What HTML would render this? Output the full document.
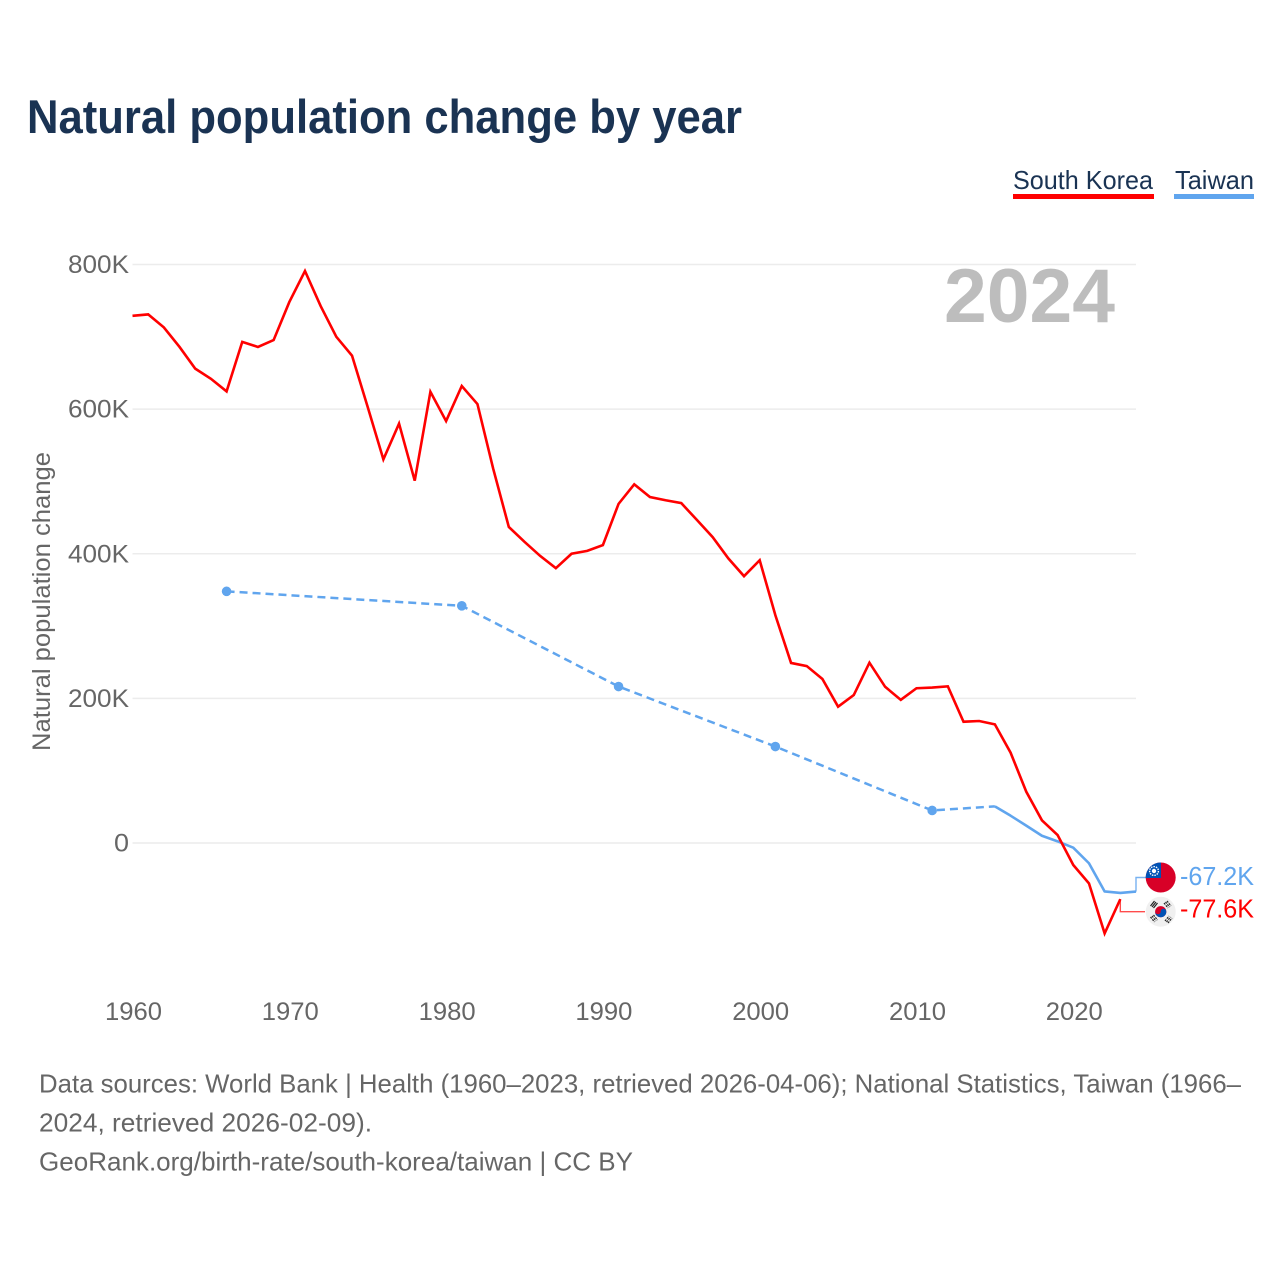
<!DOCTYPE html>
<html lang="en">
<head>
<meta charset="utf-8">
<title>Natural population change by year</title>
<style>
html,body{margin:0;padding:0;background:#fff;width:1280px;height:1280px;overflow:hidden}
svg{display:block}
text{font-family:"Liberation Sans",sans-serif}
</style>
</head>
<body>
<svg id="chart" xmlns="http://www.w3.org/2000/svg" width="1280" height="1280" viewBox="0 0 1280 1280">
  <defs>
    <clipPath id="flag-clip-tw"><circle cx="1160.7" cy="877.5" r="15"/></clipPath>
    <clipPath id="flag-clip-kr"><circle cx="1160.7" cy="911.7" r="15"/></clipPath>
  </defs>
  <rect x="0" y="0" width="1280" height="1280" fill="#fff"/>
  <text x="27" y="133" font-size="47" font-weight="700" fill="#1a3353" textLength="715" lengthAdjust="spacingAndGlyphs">Natural population change by year</text>

  <g>
    <text x="1013" y="189" font-size="26" fill="#1a3353" textLength="140" lengthAdjust="spacingAndGlyphs">South Korea</text>
    <rect x="1013" y="194" width="141" height="5" fill="#ff0000"/>
  </g>
  <g>
    <text x="1175" y="189" font-size="26" fill="#1a3353" textLength="79" lengthAdjust="spacingAndGlyphs">Taiwan</text>
    <rect x="1174" y="194" width="80" height="5" fill="#60a5ee"/>
  </g>

  <g id="grid"></g>
  <g id="yticks"></g>
  <g id="xticks"></g>

  <text x="1115" y="322" text-anchor="end" font-size="76" font-weight="700" fill="#bdbdbd" textLength="171" lengthAdjust="spacingAndGlyphs">2024</text>
  <text transform="translate(50,601.5) rotate(-90)" text-anchor="middle" font-size="25" fill="#666" textLength="299" lengthAdjust="spacingAndGlyphs">Natural population change</text>

  <g id="series"></g>

  <g>
    <g clip-path="url(#flag-clip-tw)">
      <rect x="1145" y="862" width="32" height="31" fill="#d80027"/>
      <rect x="1145" y="862" width="16" height="16" fill="#0052b4"/>
      <circle cx="1154" cy="871" r="4.4" fill="none" stroke="#fff" stroke-width="1.4" stroke-dasharray="1.5 1"/>
      <circle cx="1154" cy="871" r="2.2" fill="#fff"/>
    </g>
  </g>
  <g>
    <g clip-path="url(#flag-clip-kr)">
      <rect x="1145" y="896" width="32" height="32" fill="#f0f0f0"/>
      <circle cx="1160.7" cy="911.7" r="5.6" fill="#d80027"/>
      <path d="M1155.1 911.7a5.6 5.6 0 0 0 11.2 0a2.8 2.8 0 0 0-5.6-.4a2.8 2.8 0 0 1-5.6.4z" fill="#0052b4"/>
      <g stroke="#222" stroke-width="1.2" fill="none">
        <path d="M1150.5 906l4-5M1152 907l4-5M1153.5 908l4-5"/>
        <path d="M1165 921l4-5M1166.5 922l4-5M1168 923l4-5" stroke-dasharray="2 1"/>
        <path d="M1150.5 917l4 5M1152 916l4 5M1153.5 915l4 5" stroke-dasharray="2 1"/>
        <path d="M1164 903l4 5M1165.5 902l4 5M1167 901l4 5" stroke-dasharray="2 1"/>
      </g>
    </g>
  </g>
  <text id="label-tw" x="1180" y="885" font-size="26" fill="#60a5ee" textLength="74" lengthAdjust="spacingAndGlyphs"></text>
  <text id="label-kr" x="1180" y="917.5" font-size="26" fill="#ff0000" textLength="74" lengthAdjust="spacingAndGlyphs"></text>

  <g font-size="26" fill="#666">
    <text x="39" y="1092.5" textLength="1202" lengthAdjust="spacingAndGlyphs">Data sources: World Bank | Health (1960–2023, retrieved 2026-04-06); National Statistics, Taiwan (1966–</text>
    <text x="39" y="1131.5" textLength="333" lengthAdjust="spacingAndGlyphs">2024, retrieved 2026-02-09).</text>
    <text x="39" y="1170.5" textLength="594" lengthAdjust="spacingAndGlyphs">GeoRank.org/birth-rate/south-korea/taiwan | CC BY</text>
  </g>
</svg>
<script>
const xTickYears = [1960, 1970, 1980, 1990, 2000, 2010, 2020];
const yTickValues = [800, 600, 400, 200, 0];
const yTickLabels = ["800K", "600K", "400K", "200K", "0"];

const koreaYears = [1960,1961,1962,1963,1964,1965,1966,1967,1968,1969,1970,1971,1972,1973,1974,1975,1976,1977,1978,1979,1980,1981,1982,1983,1984,1985,1986,1987,1988,1989,1990,1991,1992,1993,1994,1995,1996,1997,1998,1999,2000,2001,2002,2003,2004,2005,2006,2007,2008,2009,2010,2011,2012,2013,2014,2015,2016,2017,2018,2019,2020,2021,2022,2023];
const koreaValues = [729,731,713,686,656,642,624.5,693,686,695.5,748,791,742.5,700,674,603,530.5,580,501,624,583.5,632,607,518,437,416.5,397,380,400,404,412,469,496,478.5,474,470,446.6,423,393.6,369,391,315,249,244.7,226.8,188.5,204.6,249.3,216,198,214,215,216.6,167.7,168.7,164,125,71,31.4,11,-30.4,-55.8,-125,-77.6];

const taiwanDashedYears = [1966,1981,1991,2001,2011,2015];
const taiwanDashedValues = [348,328,216.4,133.4,45,50.7];
const taiwanSolidYears = [2015,2016,2017,2018,2019,2020,2021,2022,2023,2024];
const taiwanSolidValues = [50.7,37.8,24,10,2.3,-6.5,-28,-67,-69,-67.2];
const taiwanMarkerYears = [1966,1981,1991,2001,2011];
const taiwanMarkerValues = [348,328,216.4,133.4,45];

const NS = "http://www.w3.org/2000/svg";
function xScale(year){ return 132.5 + (year - 1960) * (1136 - 132.5) / 64; }
function yScale(value){ return 843 - value * (843 - 264.5) / 800; }
function make(tag, parent, attrs, text){
  const el = document.createElementNS(NS, tag);
  for (const k in attrs) el.setAttribute(k, attrs[k]);
  if (text !== undefined) el.textContent = text;
  document.getElementById(parent).appendChild(el);
  return el;
}
function linePoints(xs, ys){
  return xs.map(function(x, i){ return xScale(x).toFixed(2) + "," + yScale(ys[i]).toFixed(2); }).join(" ");
}
function formatK(v){ return v.toFixed(1) + "K"; }

yTickValues.forEach(function(v, i){
  const line = make("line", "grid", {x1: xScale(1960), x2: xScale(2024), y1: yScale(v), y2: yScale(v), stroke: "#ececec", "stroke-width": 1.5});
  
  
  const label = yTickLabels[i];
  const t = make("text", "yticks", {x: 129, y: yScale(v) + 8.5, "text-anchor": "end", "font-size": 25, fill: "#666", textLength: label === "0" ? 15 : 61, lengthAdjust: "spacingAndGlyphs"}, label);
  
  
});

xTickYears.forEach(function(year){
  const t = make("text", "xticks", {x: xScale(year) + 1, y: 1020, "text-anchor": "middle", "font-size": 25, fill: "#666", textLength: 57, lengthAdjust: "spacingAndGlyphs"}, String(year));
  
  
});

const dashed = make("polyline", "series", {points: linePoints(taiwanDashedYears, taiwanDashedValues), fill: "none", stroke: "#60a5ee", "stroke-width": 2.5, "stroke-dasharray": "8 5"});



const solid = make("polyline", "series", {points: linePoints(taiwanSolidYears, taiwanSolidValues), fill: "none", stroke: "#60a5ee", "stroke-width": 2.6, "stroke-linejoin": "round"});



taiwanMarkerYears.forEach(function(year, i){
  const dot = make("circle", "series", {cx: xScale(year), cy: yScale(taiwanMarkerValues[i]), r: 4.8, fill: "#60a5ee"});
  
  
});

const korea = make("polyline", "series", {points: linePoints(koreaYears, koreaValues), fill: "none", stroke: "#ff0000", "stroke-width": 2.6, "stroke-linejoin": "miter"});



const twLastX = xScale(taiwanSolidYears[taiwanSolidYears.length - 1]);
const twLastY = yScale(taiwanSolidValues[taiwanSolidValues.length - 1]);
const twConn = make("polyline", "series", {points: twLastX + "," + twLastY + " " + twLastX + ",877.5 1146,877.5", fill: "none", stroke: "#60a5ee", "stroke-width": 1.4, opacity: 0.85});



const krLastX = xScale(koreaYears[koreaYears.length - 1]);
const krLastY = yScale(koreaValues[koreaValues.length - 1]);
const krConn = make("polyline", "series", {points: krLastX + "," + krLastY + " " + krLastX + ",911.7 1145,911.7", fill: "none", stroke: "#ff0000", "stroke-width": 1.4, opacity: 0.7});



document.getElementById("label-tw").textContent = formatK(taiwanSolidValues[taiwanSolidValues.length - 1]);
document.getElementById("label-kr").textContent = formatK(koreaValues[koreaValues.length - 1]);
</script>
</body>
</html>
